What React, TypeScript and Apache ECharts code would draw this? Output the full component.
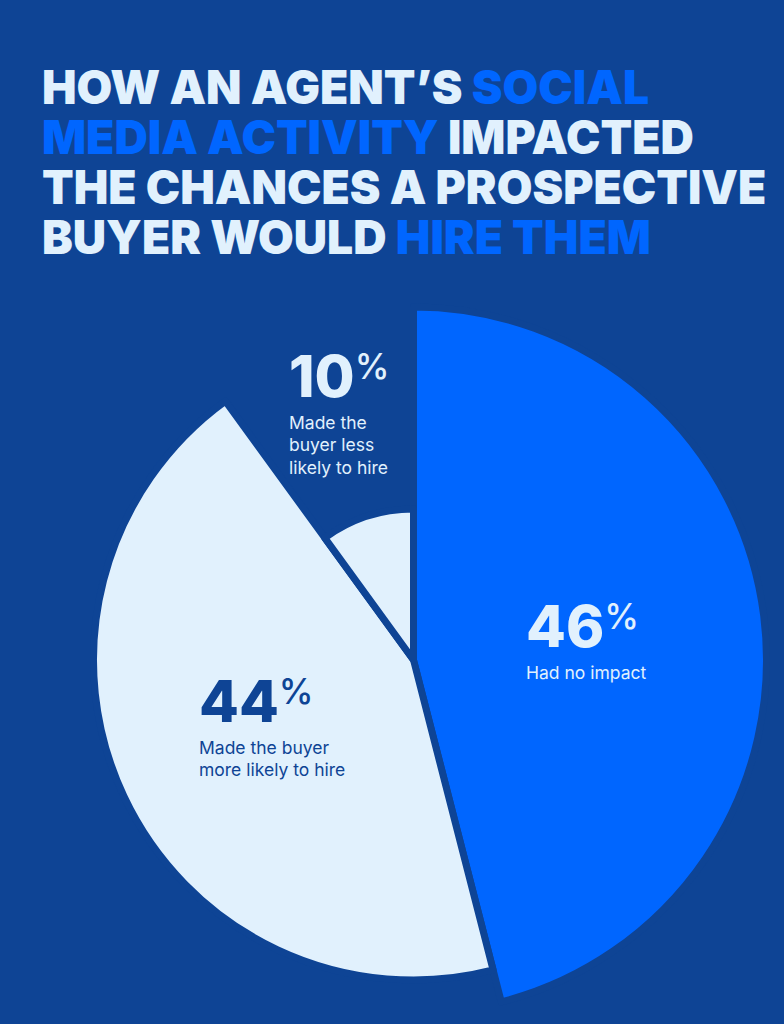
import React, { useEffect, useRef } from "react";
import * as echarts from "echarts";

// Share of prospective buyers, by how an agent's social media activity affected them
const categories = ["Had no impact", "Made the buyer more likely to hire", "Made the buyer less likely to hire"];
const values = [46, 44, 10];
const labelLines = [
  ["Had no impact"],
  ["Made the buyer", "more likely to hire"],
  ["Made the", "buyer less", "likely to hire"],
];

// headline, one entry per line; true marks the highlighted segments
const titleLines: [string, boolean][][] = [
  [["HOW AN AGENT’S ", false], ["SOCIAL", true]],
  [["MEDIA ACTIVITY", true], [" IMPACTED", false]],
  [["THE CHANCES A PROSPECTIVE", false]],
  [["BUYER WOULD ", false], ["HIRE THEM", true]],
];

const BG = "#0e4495";
const BRIGHT = "#0066ff";
const PALE = "#e1f1fd";

const sliceColors = [BRIGHT, PALE, PALE];
const sliceRadii = [353, 320, 151];

export default function App() {
  const ref = useRef<HTMLDivElement>(null);

  useEffect(() => {
    document.body.style.margin = "0";
    document.body.style.background = BG;
    const chart = echarts.init(ref.current!, null, { renderer: "svg" });

    // one pie per slice so each slice can have its own radius
    const series = values.map((_, si) => ({
      type: "pie",
      silent: true,
      z: 2,
      center: [413.5, 660],
      radius: [0, sliceRadii[si]],
      startAngle: 90,
      clockwise: true,
      label: { show: false },
      labelLine: { show: false },
      emphasis: { disabled: true },
      data: values.map((v, i) => ({
        name: categories[i],
        value: v,
        itemStyle:
          i === si
            ? { color: sliceColors[i], borderColor: BG, borderWidth: 7 }
            : { color: "transparent", borderWidth: 0 },
      })),
    }));

    const valueLabel = (i: number, x: number, y: number, color: string) => ({
      type: "group",
      x,
      y,
      z: 100,
      children: [
        {
          type: "text",
          x: 0,
          y: 0,
          z: 100,
          style: {
            text: `{n|${values[i]}}{p|%}`,
            fill: color,
            rich: {
              n: { fontFamily: "Inter", fontWeight: 800, fontSize: 58, lineHeight: 56, fill: color },
              p: { fontFamily: "Inter", fontWeight: 500, fontSize: 35, verticalAlign: "top", lineHeight: 40, fill: color },
            },
          },
        },
        {
          type: "text",
          x: 0,
          y: 63,
          z: 100,
          style: {
            text: labelLines[i].join("\n"),
            fill: color,
            fontFamily: "Inter",
            fontWeight: 400,
            fontSize: 17.5,
            lineHeight: 22.5,
          },
        },
      ],
    });

    const title = {
      type: "group",
      x: 42,
      y: 64,
      scaleX: 0.982,
      z: 100,
      children: titleLines.map((segs, li) => ({
        type: "text",
        x: 0,
        y: li * 50,
        z: 100,
        style: {
          text: segs.map(([s, hl]) => `{${hl ? "b" : "w"}|${s}}`).join(""),
          rich: {
            w: { fill: PALE, fontFamily: "Inter", fontWeight: 900, fontSize: 47, lineHeight: 46 },
            b: { fill: BRIGHT, fontFamily: "Inter", fontWeight: 900, fontSize: 47, lineHeight: 46 },
          },
        },
      })),
    };

    chart.setOption({
      animation: false,
      backgroundColor: BG,
      series,
      graphic: [
        title,
        valueLabel(2, 289, 348, PALE),
        valueLabel(0, 526, 598, PALE),
        valueLabel(1, 199, 673, BG),
      ],
    });

    return () => chart.dispose();
  }, []);

  return <div ref={ref} style={{ width: 784, height: 1024 }} />;
}
